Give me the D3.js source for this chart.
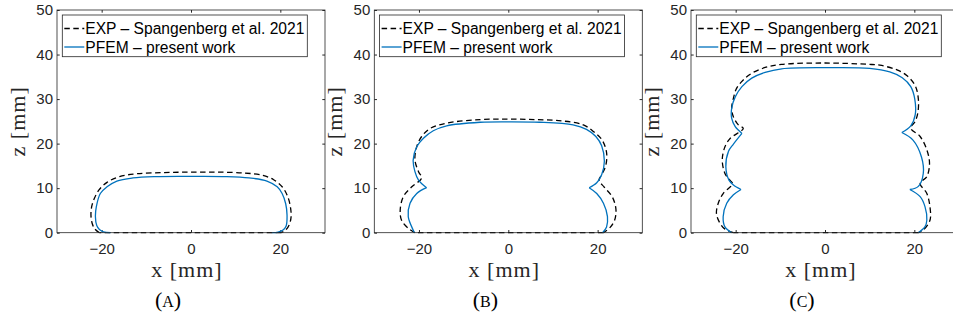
<!DOCTYPE html>
<html>
<head>
<meta charset="utf-8">
<script src="https://cdn.jsdelivr.net/npm/d3@7"></script>
<style>
  html, body { margin: 0; padding: 0; background: #fff; }
  svg { display: block; }
</style>
</head>
<body>
<svg id="chart" width="953" height="321"></svg>
<script>
// ---- data (x, z in mm) ----
const panelLabels = ['A', 'B', 'C'];
const xTicks = [-20, 0, 20];
const yTicks = [0, 10, 20, 30, 40, 50];
const legendLabels = ['EXP \u2013 Spangenberg et al. 2021', 'PFEM \u2013 present work'];

// EXP contours: curved outline + straight base
const expA = [
  [[-20.5, 0], [-21.5, 0.8], [-22.1, 2], [-22.4, 4], [-22.2, 6], [-21.6, 7.8], [-20.6, 9.6], [-18.8, 11.3],
   [-16, 12.6], [-12, 13.25], [-6, 13.5], [0, 13.6], [6, 13.6], [12, 13.4], [16, 12.9], [18.5, 11.9],
   [20.5, 10.2], [21.7, 8], [22.3, 5.5], [22.4, 3.5], [22, 1.8], [21.2, 0.6], [20.2, 0]],
  [[20.2, 0], [-20.5, 0]]
];
const expB = [
  [[-20.9, 0], [-22.4, 1], [-23.9, 2.8], [-24.2, 5.1], [-23.5, 8.1], [-21.6, 10.3], [-19.4, 12.3],
   [-20.1, 13.7], [-20.9, 16.3], [-20.5, 19.3], [-19.4, 21.6], [-17.5, 23.4], [-13.8, 24.6], [-6.3, 25.4],
   [0, 25.5], [6, 25.4], [12, 25.1], [16.8, 24.2], [19.2, 22.6], [21, 20.8], [22, 18], [21.8, 15], [20.9, 13],
   [20.3, 11.8], [21.5, 10.2], [23.3, 8], [24.1, 5.2], [23.8, 2.8], [22.8, 1.2], [21.3, 0]],
  [[21.3, 0], [-20.9, 0]]
];
const expC = [
  [[-20.5, 0], [-22.4, 0.8], [-23.5, 2.1], [-24.3, 4.3], [-23.9, 6.6], [-22.8, 8.8], [-20.7, 11], [-21.4, 11.9],
   [-22.4, 13.3], [-23, 16.3], [-22.4, 19.3], [-21.2, 21.2], [-18.3, 23.4], [-19.4, 24.2], [-20.5, 26],
   [-20.9, 27.9], [-20.5, 30.2], [-19.8, 32.4], [-18.3, 34.3], [-16.4, 35.8], [-13.4, 37.1], [-9.7, 37.8],
   [0, 38.1], [9.7, 37.8], [12.3, 37.6], [16, 36.6], [18.3, 35.3], [20.2, 33], [20.9, 30], [20.8, 27],
   [20.2, 25], [19.2, 23.5], [21.3, 21.6], [22.8, 18.6], [23.4, 15.6], [22.8, 12.6], [21.3, 11.1], [22.8, 8.8],
   [23.5, 5.8], [23.5, 2.8], [22, 0.6], [20.9, 0]],
  [[20.9, 0], [-20.5, 0]]
];

// PFEM contours: lobes split at the cusps
const pfemA = [
  [[-18, 0], [-19.6, 0.2], [-20.5, 0.7], [-21.1, 1.6], [-21.4, 3.6], [-21.2, 5.8], [-20.3, 8.8], [-18.8, 10.3],
   [-16.6, 11.6], [-13, 12.3], [-8, 12.6], [0, 12.65], [8, 12.6], [13, 12.3], [17, 11.6], [19.3, 10.3],
   [20.4, 8.8], [21.2, 6.5], [21.5, 4], [21.3, 1.5], [20.6, 0.6], [19.5, 0.15], [18.1, 0]]
];
const pfemB = [
  [[-21, 0], [-21.3, 0.6], [-22.4, 3.6], [-22, 6.6], [-20.5, 8.8], [-18.3, 10.1]],
  [[-18.3, 10.1], [-20.1, 11.8], [-20.9, 13.7], [-21.3, 16.3], [-20.5, 19.3], [-19, 21.2], [-16.8, 22.9],
   [-13.8, 24], [-6.3, 24.8], [0, 24.9], [7, 24.8], [14.5, 24.2], [17.5, 23.2], [19.6, 21.6], [20.9, 19.5],
   [21.5, 16], [20.9, 13], [19.8, 11.2], [18.1, 10.1]],
  [[18.1, 10.1], [19.8, 8.8], [21.3, 6.6], [22.2, 3.6], [22, 1.3], [21.1, 0]]
];
const pfemC = [
  [[-20.9, 0], [-22.4, 1.3], [-22.8, 3.6], [-22, 6.6], [-20.5, 8.5], [-18.8, 9.7]],
  [[-18.8, 9.7], [-20.5, 10.7], [-21.5, 11.8], [-22.2, 14.8], [-21.6, 18.3], [-20.5, 19.9], [-18.6, 22.3]],
  [[-18.6, 22.3], [-20.1, 23.8], [-20.9, 25.7], [-20.9, 27.9], [-20.1, 30.5], [-18.6, 32.8], [-16.4, 34.7],
   [-13.4, 36], [-9.7, 36.8], [0, 37.05], [10, 36.9], [14.5, 36.1], [17.3, 34.8], [19.2, 32.8], [20.1, 30],
   [20.2, 26.5], [19.2, 24], [17.2, 22.5]],
  [[17.2, 22.5], [19.7, 20.8], [21.6, 17], [22, 13.3], [20.9, 10.4], [19, 9.7]],
  [[19, 9.7], [21.3, 8.1], [22.4, 5.8], [22.8, 2.85], [22.4, 1.35], [20.9, 0]]
];

const expSeries = [expA, expB, expC];
const pfemSeries = [pfemA, pfemB, pfemC];

// ---- layout ----
const svg = d3.select('#chart');
const panelLeft = [57, 374.3, 691];
const TOP = 10, PW = 268, PH = 222.7;
const AX = '#262626', BLUE = '#0072BD';
const SANS = '"Liberation Sans", Arial, sans-serif';
const SERIF = '"Liberation Serif", "Times New Roman", serif';

const x = d3.scaleLinear().domain([-30, 30]).range([0, PW]);
const y = d3.scaleLinear().domain([0, 50]).range([PH, 0]);
const line = d3.line().x(d => x(d[0])).y(d => y(d[1])).curve(d3.curveCatmullRom.alpha(0.5));

panelLabels.forEach((lab, i) => {
  const g = svg.append('g').attr('transform', `translate(${panelLeft[i]},${TOP})`);

  // axes, ticks inward on all four sides
  const styleAxis = sel => {
    sel.select('.domain').remove();
    sel.selectAll('line').attr('stroke', AX);
    sel.selectAll('text').attr('fill', AX).attr('font-family', SANS).attr('font-size', 15);
  };
  g.append('g').attr('transform', `translate(0,${PH})`)
    .call(d3.axisBottom(x).tickValues(xTicks).tickSizeInner(-2.7).tickSizeOuter(0).tickPadding(11))
    .call(styleAxis);
  g.append('g')
    .call(d3.axisTop(x).tickValues(xTicks).tickSizeInner(-2.7).tickSizeOuter(0).tickFormat(''))
    .call(styleAxis);
  g.append('g')
    .call(d3.axisLeft(y).tickValues(yTicks).tickSizeInner(-2.7).tickSizeOuter(0).tickPadding(4))
    .call(styleAxis);
  g.append('g').attr('transform', `translate(${PW},0)`)
    .call(d3.axisRight(y).tickValues(yTicks).tickSizeInner(-2.7).tickSizeOuter(0).tickFormat(''))
    .call(styleAxis);

  // data
  g.selectAll('path.exp').data(expSeries[i]).join('path').attr('class', 'exp')
    .attr('d', line).attr('fill', 'none').attr('stroke', '#000')
    .attr('stroke-width', 1.3).attr('stroke-dasharray', '5.5,3.5');
  g.selectAll('path.pfem').data(pfemSeries[i]).join('path').attr('class', 'pfem')
    .attr('d', line).attr('fill', 'none').attr('stroke', BLUE).attr('stroke-width', 1.3);

  // box
  g.append('rect').attr('width', PW).attr('height', PH)
    .attr('fill', 'none').attr('stroke', AX).attr('stroke-width', 0.8);

  // legend
  const lg = g.append('g').attr('transform', 'translate(5.3,5)');
  lg.append('rect').attr('width', 245).attr('height', 41.7)
    .attr('fill', '#fff').attr('stroke', AX).attr('stroke-width', 0.8);
  legendLabels.forEach((t, k) => {
    const yy = 13.5 + k * 18.5;
    lg.append('line').attr('x1', 2).attr('x2', 22).attr('y1', yy).attr('y2', yy)
      .attr('stroke', k === 0 ? '#000' : BLUE).attr('stroke-width', 1.3)
      .attr('stroke-dasharray', k === 0 ? '5.5,3.5' : null);
    lg.append('text').attr('x', 23).attr('y', yy).attr('dy', '0.36em')
      .attr('font-family', SANS).attr('font-size', 15.6).attr('fill', '#000').text(t);
  });

  // axis titles
  g.append('text').attr('x', PW / 2 - 4).attr('y', 267)
    .attr('text-anchor', 'middle').attr('font-family', SERIF).attr('font-size', 22)
    .attr('letter-spacing', 1).attr('fill', AX).text('x [mm]');
  g.append('text').attr('transform', `translate(-32,${PH / 2}) rotate(-90)`)
    .attr('text-anchor', 'middle').attr('font-family', SERIF).attr('font-size', 22)
    .attr('letter-spacing', 1).attr('fill', AX).text('z [mm]');

  // sub-caption
  const cap = svg.append('text').attr('x', panelLeft[i] + PW / 2 - 23).attr('y', 307)
    .attr('text-anchor', 'middle').attr('font-family', SERIF).attr('font-size', 22).attr('fill', '#000');
  cap.append('tspan').text('(');
  cap.append('tspan').attr('font-size', 16).text(lab);
  cap.append('tspan').text(')');
});
</script>
</body>
</html>
